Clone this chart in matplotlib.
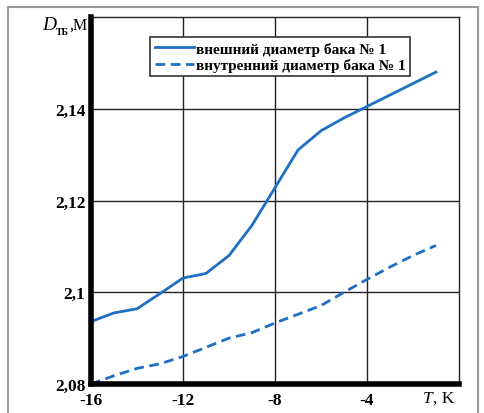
import matplotlib
matplotlib.use("Agg")
import matplotlib.pyplot as plt
from matplotlib.patches import Rectangle

T = [-16, -15, -14, -13, -12, -11, -10, -9, -8, -7, -6, -5, -4, -3, -2, -1]
outer = [2.0936, 2.0955, 2.0964, 2.0997, 2.1031, 2.1041, 2.1080, 2.1146, 2.1228, 2.1310, 2.1352, 2.1380, 2.1405, 2.1430, 2.1455, 2.1480]
inner = [2.0800, 2.0818, 2.0834, 2.0844, 2.0860, 2.0880, 2.0900, 2.0912, 2.0933, 2.0952, 2.0971, 2.1000, 2.1028, 2.1055, 2.1080, 2.1102]
xticks = [-16, -12, -8, -4]
xticklabels = ["-16", "-12", "-8", "-4"]
yticks = [2.08, 2.10, 2.12, 2.14]
yticklabels = ["2,08", "2,1", "2,12", "2,14"]
labels = ["внешний диаметр бака № 1", "внутренний диаметр бака № 1"]

blue = "#1f6fc4"
serif = ["Liberation Serif", "DejaVu Serif"]

fig = plt.figure(figsize=(4.84, 4.14), dpi=100)
fig.patches.append(Rectangle((8/484, -0.05), 470/484, 1.05 - 8/414, transform=fig.transFigure,
                             fill=False, edgecolor="#9a9a9a", linewidth=1.5))

ax = fig.add_axes([91/484, 1 - 385/414, 368/484, 367/414])
ax.plot(T, outer, color=blue, lw=2.0, label=labels[0])
ax.plot(T, inner, color=blue, lw=2.0, ls=(0, (3.5, 2)), label=labels[1])
ax.set_xlim(-16, 0)
ax.set_ylim(2.08, 2.16)

for x in [-12, -8, -4]:
    ax.axvline(x, color="#222222", lw=1.0, zorder=0)
for y in [2.10, 2.12, 2.14]:
    ax.axhline(y, color="#222222", lw=1.0, zorder=0)

for s in ["left", "bottom"]:
    ax.spines[s].set_linewidth(4)
    ax.spines[s].set_color("black")
for s in ["top", "right"]:
    ax.spines[s].set_linewidth(1.0)
    ax.spines[s].set_color("#222222")

ax.set_xticks(xticks)
ax.set_xticklabels(xticklabels, fontfamily=serif, fontweight="bold", fontsize=12.5)
ax.set_yticks(yticks)
ax.set_yticklabels(yticklabels, fontfamily=serif, fontweight="bold", fontsize=12.5)
ax.tick_params(axis="x", length=0, pad=6)
ax.tick_params(axis="y", length=0, pad=4)

ax.text(-1.15, 2.08 - 0.0012, "T", fontfamily=serif, fontstyle="italic", fontsize=12.5,
        ha="right", va="top")
ax.text(-1.12, 2.08 - 0.0012, ", K", fontfamily=serif, fontsize=12.5, ha="left", va="top")

fig.text(42/484, 1 - 30/414, "D", fontsize=14, fontstyle="italic", ha="left", va="baseline",
         fontfamily=serif)
fig.text(56/484, 1 - 35/414, "ТБ", fontsize=7, fontweight="bold", ha="left", va="baseline",
         fontfamily=serif)
fig.text(69/484, 1 - 30/414, ",М", fontsize=11.5, ha="left", va="baseline", fontfamily=serif)

leg = ax.legend(loc="upper left", bbox_to_anchor=(59/368, 1 - 20/367), frameon=True, fancybox=False,
                edgecolor="#333333", framealpha=1, borderpad=0.3, labelspacing=0.15,
                handlelength=2.6, handletextpad=0.1, borderaxespad=0,
                prop={"family": serif, "weight": "bold", "size": 11})
leg.get_frame().set_linewidth(1.2)

fig.savefig("out.png", dpi=100)
